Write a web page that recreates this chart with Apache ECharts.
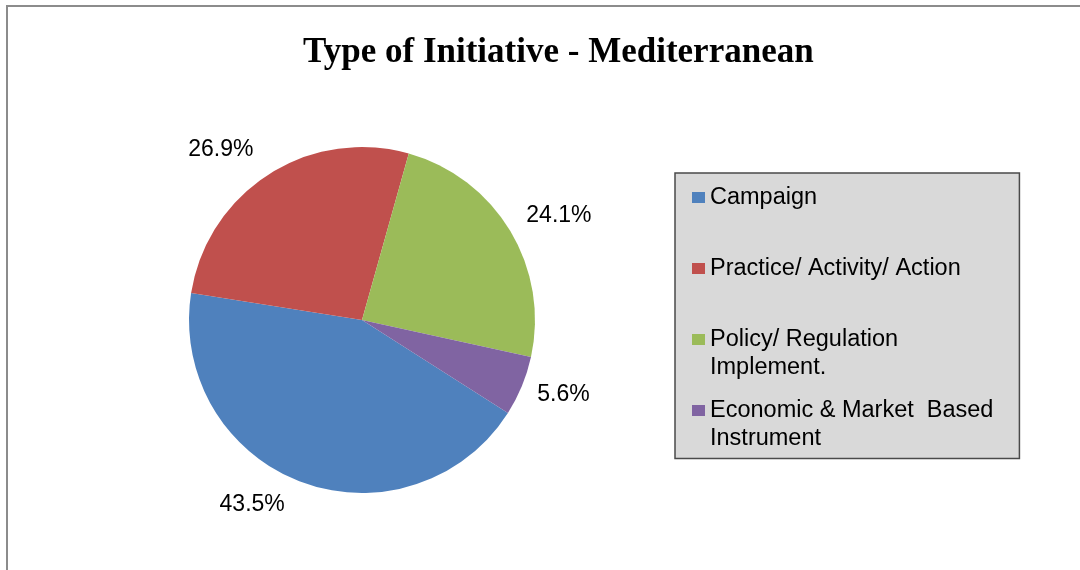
<!DOCTYPE html>
<html>
<head>
<meta charset="utf-8">
<script src="https://cdn.jsdelivr.net/npm/echarts@6/dist/echarts.min.js"></script>
<style>
  html, body { margin: 0; padding: 0; background: #ffffff; }
  #chart { width: 1080px; height: 570px; }
</style>
</head>
<body>
<div id="chart"></div>
<script>
// Share of initiative types in the Mediterranean (percent)
const categories = [
  'Campaign',
  'Practice/ Activity/ Action',
  'Policy/ Regulation\nImplement.',
  'Economic & Market  Based\nInstrument'
];
const shares = [43.5, 26.9, 24.1, 5.6];
const sliceColors = ['#4F81BD', '#C0504D', '#9BBB59', '#8064A2'];

// Label placement tweaks: rotation (deg, clockwise) and distance beyond the rim (px)
const labelTurn = [10, -7, 3, -2];
const labelGap = [42, 48, 50, 42];

const pieRadius = 173;

const pieData = categories.map((name, i) => ({
  name: name,
  value: shares[i],
  itemStyle: { color: sliceColors[i] }
}));

const chart = echarts.init(document.getElementById('chart'), null, { renderer: 'canvas' });

chart.setOption({
  animation: false,
  backgroundColor: '#ffffff',
  title: {
    text: 'Type of Initiative - Mediterranean',
    left: 303,
    top: 35,
    padding: 0,
    textStyle: {
      fontFamily: 'Liberation Serif',
      fontWeight: 'bold',
      fontSize: 35,
      color: '#000000'
    }
  },
  legend: {
    orient: 'vertical',
    left: 675,
    top: 173,
    padding: [-17.5, 26, 6, 17],
    itemGap: -13,
    itemWidth: 13,
    itemHeight: 11,
    icon: 'rect',
    selectedMode: false,
    backgroundColor: '#D9D9D9',
    borderColor: '#4a4a4a',
    borderWidth: 1.5,
    data: categories,
    // three lines per entry with the name in the middle one, so the marker sits on the first text line
    formatter: name => '\n' + (name.indexOf('\n') >= 0 ? name : name + '\n'),
    textStyle: {
      fontFamily: 'Liberation Sans',
      fontSize: 23.5,
      lineHeight: 28,
      color: '#000000'
    }
  },
  graphic: [{
    type: 'rect',
    silent: true,
    shape: { x: 7, y: 6, width: 1200, height: 700 },
    style: { fill: 'none', stroke: '#8c8c8c', lineWidth: 2 }
  }],
  series: [{
    type: 'pie',
    center: [362, 320],
    radius: pieRadius,
    startAngle: -32.5,
    clockwise: true,
    avoidLabelOverlap: false,
    emphasis: { disabled: true },
    data: pieData,
    label: {
      show: true,
      position: 'outside',
      formatter: p => p.value.toFixed(1) + '%',
      fontFamily: 'Liberation Sans',
      fontSize: 23,
      color: '#000000'
    },
    labelLine: {
      show: true,
      length: 20,
      length2: 0,
      lineStyle: { opacity: 0 }
    },
    labelLayout: function (params) {
      const pts = params.labelLinePoints;
      if (!pts || pts.length < 2) return {};
      const i = params.dataIndex;
      const dx = pts[1][0] - pts[0][0];
      const dy = pts[1][1] - pts[0][1];
      const len = Math.hypot(dx, dy);
      const ang = Math.atan2(dy, dx) + labelTurn[i] * Math.PI / 180;
      // back from the rim point to the pie centre along the slice bisector
      const cx = pts[0][0] - pieRadius * dx / len;
      const cy = pts[0][1] - pieRadius * dy / len;
      const d = pieRadius + labelGap[i];
      return {
        x: cx + d * Math.cos(ang),
        y: cy + d * Math.sin(ang),
        align: 'center',
        verticalAlign: 'middle'
      };
    }
  }]
});
</script>
</body>
</html>
